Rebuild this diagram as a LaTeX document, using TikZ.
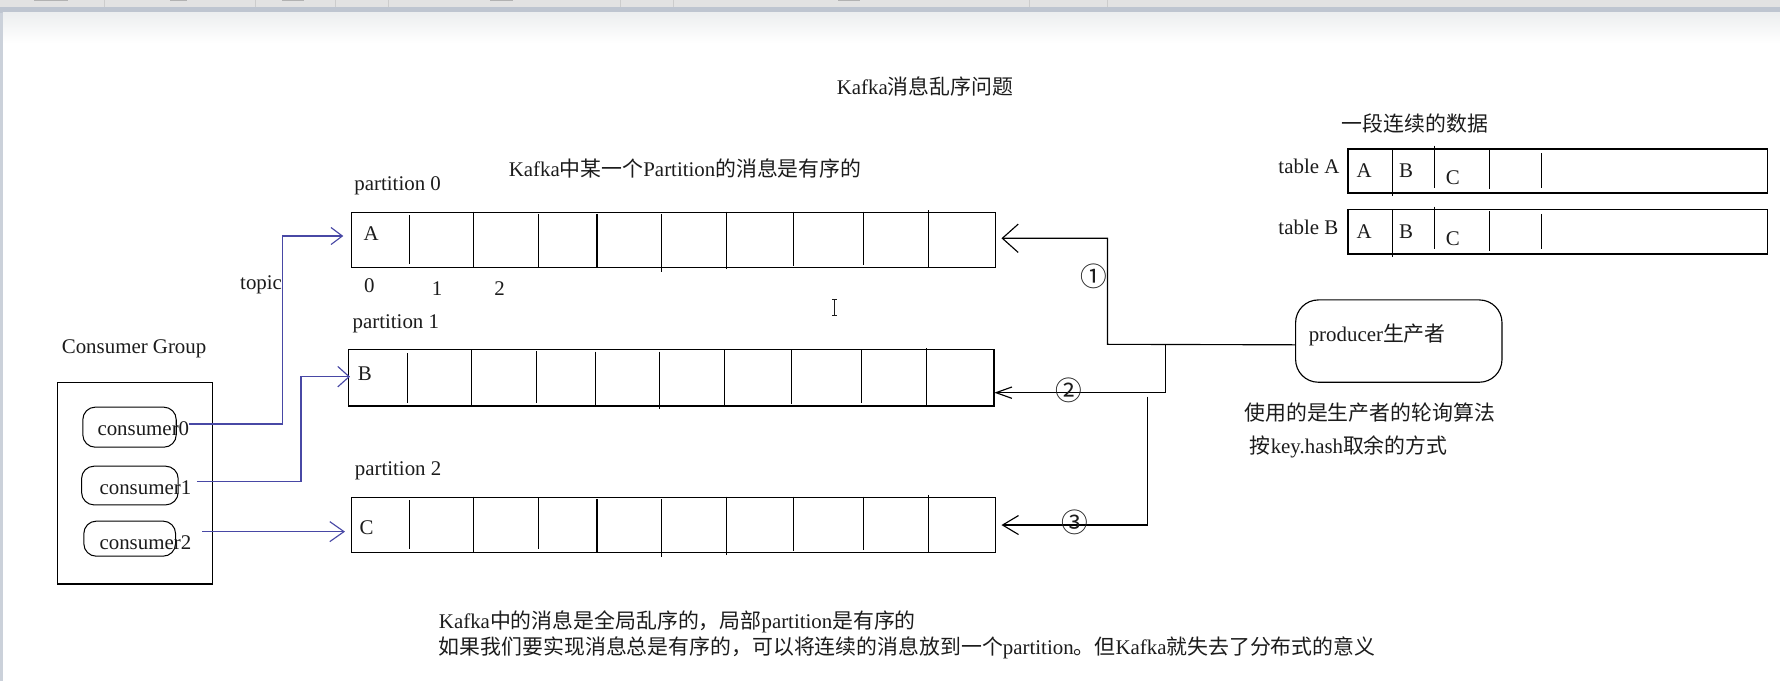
\documentclass[tikz,border=0pt]{standalone}
\usepackage{fontspec}
\setmainfont{Liberation Serif}
\newfontfamily\cjk{Noto Sans CJK SC}
\usetikzlibrary{arrows.meta}
\newcommand\zh[1]{{\cjk #1}}
\newcommand\fsz{\fontsize{18.4}{22}\selectfont}
\definecolor{ink}{RGB}{28,28,28}
\definecolor{blueln}{RGB}{72,72,165}
\definecolor{hdrgray}{RGB}{226,226,226}
\definecolor{hdrblue}{RGB}{190,197,208}
\definecolor{hdrfade}{RGB}{236,238,239}
\tikzset{
  txt/.style={font=\fsz, inner sep=0pt, text=ink},
  blk/.style={draw=black, line width=1pt},
  bl/.style={draw=blueln, line width=1pt},
  pbox/.style={draw=black, line width=1pt, inner sep=0pt, anchor=north west, minimum width=568pt, minimum height=49pt},
  cbox/.style={draw=black, line width=0.9pt, inner sep=0pt, anchor=north west, rounded corners=11pt},
  tbox/.style={draw=black, line width=1pt, inner sep=0pt, anchor=north west, minimum width=369.4pt, minimum height=38.8pt},
  circnum/.style={font=\cjk\fontsize{23.5}{26}\selectfont, inner sep=0pt, text=ink},
}
\begin{document}
\begin{tikzpicture}[x=1pt,y=-1pt]
\useasboundingbox (0,0) rectangle (1568,600);
\fill[white] (0,0) rectangle (1568,600);
% window header
\fill[hdrgray] (0,0) rectangle (1568,5.9);
\fill[hdrblue] (0,5.9) rectangle (1568,11.2);
\shade[top color=hdrfade, bottom color=white] (2.5,11.2) rectangle (1568,38);
\fill[hdrblue!80] (0,11.2) rectangle (2.5,600);
\foreach \x in {92,225,295,342,546,593,907,975} \draw[gray!40, line width=0.5pt] (\x,0) -- (\x,5.9);
\foreach \a/\b in {30/60,150/165,248/268,432/452,738/758} \fill[gray!60] (\a,0) rectangle (\b,1.2);

% titles
\node[txt, anchor=west] (title) at (737,76.4) {Kafka\zh{消息乱序问题}};
\node[txt, anchor=west] (sub) at (448,148.3) {Kafka\zh{中某一个}Partition\zh{的消息是有序的}};

% partitions
\node[txt, anchor=west] (pl0) at (312,163.9) {partition 0};
\node[pbox] (p0) at (308.8,186.5) {};
\foreach \x/\a/\b in {360.7/189.4/232.6, 416.9/186.5/235.5, 474.4/188.5/235.5, 525.9/188.5/235.5, 582.5/188.5/239.3, 639.9/186.5/237.3, 698.9/186.5/234, 760.7/186.5/233.5, 818.1/185/236.4}
  \draw[blk] (\x,\a) -- (\x,\b);
\node[txt] (a0) at (327,206) {A};
\node[txt] (i0) at (325.3,251.9) {0};
\node[txt] (i1) at (385,254) {1};
\node[txt] (i2) at (440,254) {2};

\node[txt, anchor=west] (pl1) at (310.4,285.4) {partition 1};
\node[pbox, minimum width=568.7pt, minimum height=49.4pt] (p1) at (306.4,307.7) {};
\foreach \x/\a/\b in {358.7/311.2/354.7, 415.4/307.7/357.1, 472.4/309.2/354.7, 524.7/309.7/357.1, 581/309.7/360.6, 638.3/307.7/358.8, 697.3/307.7/355.9, 758.6/307.7/354.7, 816.1/306.8/358.2}
  \draw[blk] (\x,\a) -- (\x,\b);
\node[txt] (b1) at (321.4,329.5) {B};

\node[txt, anchor=west] (pl2) at (312.4,414.6) {partition 2};
\node[pbox] (p2) at (308.8,437.5) {};
\foreach \x/\a/\b in {360.7/440.5/483.9, 416.9/437.5/486.6, 474.4/438.4/483.9, 525.9/439.6/486.6, 582.5/439.6/490.4, 639.9/437.5/488.9, 698.9/437.5/485.1, 760.7/437.5/484.2, 818.1/436/487.4}
  \draw[blk] (\x,\a) -- (\x,\b);
\node[txt] (c2) at (323,464.8) {C};

% text cursor
\draw[ink, line width=0.7pt] (735.1,264) -- (735.1,277.5);
\draw[ink, line width=0.7pt] (733,264) -- (737.2,264) (733,277.5) -- (737.2,277.5);

% consumer group
\node[txt, anchor=west] (grpl) at (54.3,306.9) {Consumer Group};
\node[draw=black, line width=1pt, inner sep=0pt, anchor=north west, minimum width=136pt, minimum height=177.7pt] (grp) at (50.5,336.2) {};
\node[cbox, minimum width=82.3pt, minimum height=35.3pt] (c0) at (72.5,358.2) {};
\node[cbox, minimum width=85.1pt, minimum height=34.1pt] (c1) at (71.4,410.2) {};
\node[cbox, minimum width=80.8pt, minimum height=30.9pt] (c2b) at (73.4,458.6) {};
\node[txt, anchor=west] (c0t) at (85.7,377.3) {consumer0};
\node[txt, anchor=west] (c1t) at (87.5,429.3) {consumer1};
\node[txt, anchor=west] (c2t) at (87.5,477.7) {consumer2};
\node[txt] (topic) at (230,251.1) {topic};

% consumer -> partition (blue)
\coordinate (u0) at (248.7,373.5);
\coordinate (v0) at (248.7,207.9);
\coordinate (tip0) at (302.4,207.9);
\draw[bl, -{Straight Barb[length=10pt,width=15pt]}] ([yshift=3.8pt]c0t.east) -- (u0) -- (v0) -- (tip0);
\coordinate (u1) at (265.2,424.3);
\coordinate (v1) at (265.2,331.8);
\coordinate (tip1) at (308.3,331.8);
\draw[bl, -{Straight Barb[length=10pt,width=18pt]}] ([xshift=4.8pt,yshift=5pt]c1t.east) -- (u1) -- (v1) -- (tip1);
\coordinate (tip2) at (303.9,468.3);
\draw[bl, -{Straight Barb[length=12.5pt,width=17.6pt]}] ([xshift=9.6pt,yshift=9.4pt]c2t.east) -- (tip2);

% producer
\node[draw=black, line width=1pt, inner sep=0pt, anchor=north west, minimum width=181.8pt, minimum height=72.5pt, rounded corners=20pt] (prod) at (1140.8,263.7) {};
\node[txt, anchor=west] (prodt) at (1152.7,295.1) {producer\zh{生产者}};
\node[txt, anchor=west] (alg1) at (1096,363.5) {\zh{使用的是生产者的轮询算法}};
\node[txt, anchor=west] (alg2) at (1100.8,394) {\zh{按}key.hash\zh{取余的方式}};

% producer -> partitions (black)
\coordinate (k1) at (975.6,303.3);
\coordinate (k1b) at (975.6,209.9);
\coordinate (tipk1) at (882.2,209.9);
\draw[blk, -{Straight Barb[length=14pt,width=25pt]}] ([yshift=-3.3pt]prod.west) -- (k1) -- (k1b) -- (tipk1);
\coordinate (k2) at (1026.9,303.3);
\coordinate (k2b) at (1026.9,345.9);
\coordinate (tipk2) at (875.9,345.9);
\draw[blk, -{Straight Barb[length=14pt,width=10pt]}] (k2) -- (k2b) -- (tipk2);
\coordinate (k3) at (1010.5,349.4);
\coordinate (k3b) at (1010.5,462.5);
\coordinate (tipk3) at (882.2,462.5);
\draw[blk, -{Straight Barb[length=14pt,width=16.7pt]}] (k3) -- (k3b) -- (tipk3);
\node[circnum] (n1) at (963.3,243.1) {①};
\node[circnum] (n2) at (941.3,344.2) {②};
\node[circnum] (n3) at (946.6,460.4) {③};

% tables
\node[txt, anchor=west] (seg) at (1181.9,108.6) {\zh{一段连续的数据}};
\node[txt, anchor=west] (tal) at (1126,146.8) {table A};
\node[tbox] (tA) at (1186.9,130.7) {};
\foreach \x/\a/\b in {1226.8/130.7/172.4, 1263.5/128.3/165.9, 1311.9/132.1/166.8, 1358.1/135.1/165.9}
  \draw[blk] (\x,\a) -- (\x,\b);
\node[txt] (tAa) at (1201.6,150.3) {A};
\node[txt] (tAb) at (1238.5,150.3) {B};
\node[txt] (tAc) at (1279.7,156.2) {C};
\node[txt, anchor=west] (tbl) at (1126,200.3) {table B};
\node[tbox] (tB) at (1186.9,184.4) {};
\foreach \x/\a/\b in {1226.8/184.4/226.1, 1263.5/182.1/219.6, 1311.9/185.9/220.8, 1358.1/188.5/219.6}
  \draw[blk] (\x,\a) -- (\x,\b);
\node[txt] (tBa) at (1201.6,204.1) {A};
\node[txt] (tBb) at (1238.5,204.1) {B};
\node[txt] (tBc) at (1279.7,209.9) {C};

% bottom notes
\node[txt, anchor=west] (note1) at (386.5,548.2) {Kafka\zh{中的消息是全局乱序的，局部}partition\zh{是有序的}};
\node[txt, anchor=west] (note2) at (386.5,571.1) {\zh{如果我们要实现消息总是有序的，可以将连续的消息放到一个}partition\zh{。但}Kafka\zh{就失去了分布式的意义}};
\end{tikzpicture}
\end{document}
